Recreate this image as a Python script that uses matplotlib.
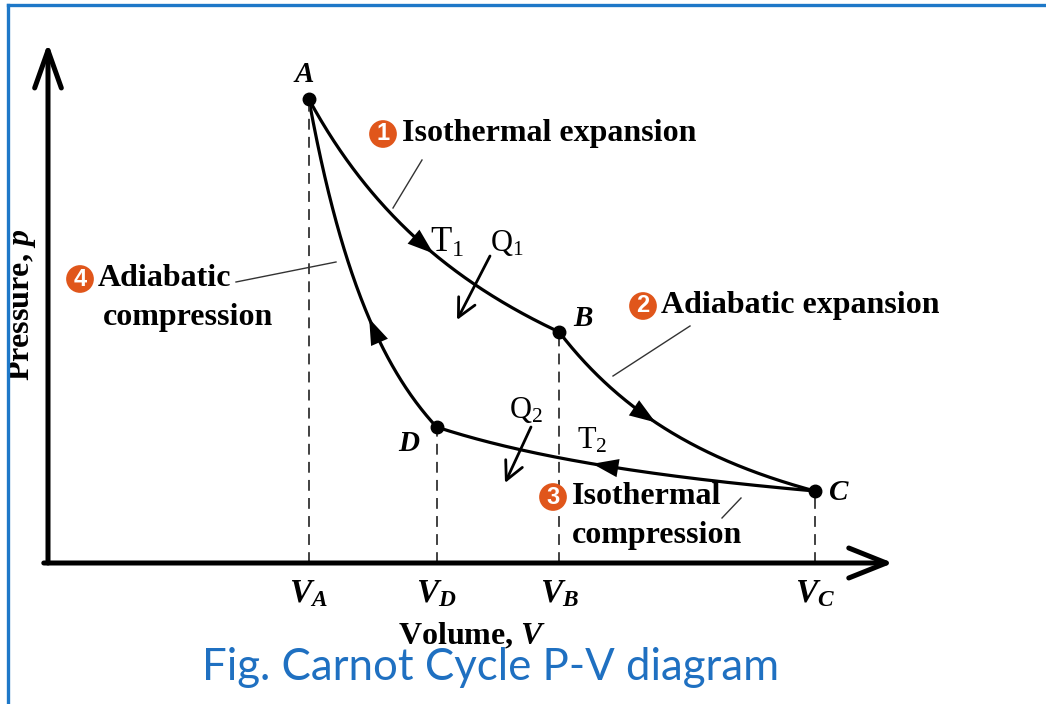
import numpy as np
import matplotlib.pyplot as plt
import matplotlib.transforms as mtransforms
from matplotlib.lines import Line2D

plt.rcParams['font.family'] = 'Liberation Serif'
plt.rcParams['mathtext.fontset'] = 'custom'
plt.rcParams['mathtext.rm'] = 'Liberation Serif'
plt.rcParams['mathtext.it'] = 'Liberation Serif:italic:bold'
plt.rcParams['mathtext.bf'] = 'Liberation Serif:bold'

# state points of the cycle (volume, pressure in arbitrary units)
points = ['A', 'B', 'C', 'D']
volume = [1.00, 1.96, 2.94, 1.49]
pressure = [4.64, 2.31, 0.72, 1.36]
tick_order = ['A', 'D', 'B', 'C']
processes = ['Isothermal expansion', 'Adiabatic expansion',
             'Isothermal\ncompression', 'Adiabatic\ncompression']
# where the direction arrow sits along each stroke (fraction of the way)
arrow_frac = [0.48, 0.36, 0.57, 0.51]

W, H = 1046, 704
fig = plt.figure(figsize=(W / 100, H / 100), dpi=100)
# image pixel coords (top-left origin) -> display
pix = mtransforms.Affine2D().scale(1, -1).translate(0, H)

ax = fig.add_axes([48 / W, 141 / H, 845 / W, 520 / H])
ax.set_xlim(0, 3.24)
ax.set_ylim(0, 5.20)
ax.axis('off')

# axes with open arrow heads
ax.annotate('', xy=(0, 1), xytext=(0, 0), xycoords='axes fraction',
            arrowprops=dict(arrowstyle='->,head_length=0.45,head_width=0.16',
                            lw=3.6, color='black', mutation_scale=60,
                            shrinkA=0, shrinkB=0))
ax.annotate('', xy=(1, 0), xytext=(-0.005, 0), xycoords='axes fraction',
            arrowprops=dict(arrowstyle='->,head_length=0.45,head_width=0.18',
                            lw=3.6, color='black', mutation_scale=60,
                            shrinkA=0, shrinkB=0))

# process curves p = p1 * (V1/V)^k through the state points
for i in range(4):
    v1, p1 = volume[i], pressure[i]
    v2, p2 = volume[(i + 1) % 4], pressure[(i + 1) % 4]
    k = np.log(p1 / p2) / np.log(v2 / v1)
    v = np.linspace(v1, v2, 200)
    p = p1 * (v1 / v) ** k
    ax.plot(v, p, color='black', lw=2.3, clip_on=False, solid_capstyle='round')
    j = int(arrow_frac[i] * 199)
    ax.annotate('', xy=(v[j + 4], p[j + 4]), xytext=(v[j], p[j]),
                arrowprops=dict(arrowstyle='-|>,head_length=0.85,head_width=0.3',
                                color='black', lw=0, mutation_scale=22,
                                shrinkA=0, shrinkB=0))

# dashed drop lines and state points
for name, v, p in zip(points, volume, pressure):
    ax.plot([v, v], [0, p], color='#333333', lw=1.3, dashes=(6, 4), clip_on=False)
ax.plot(volume, pressure, 'o', color='black', ms=9, clip_on=False)

label_offsets = {'A': (-3, 18), 'B': (17, 10), 'C': (17, -1), 'D': (-20, -12)}
for name, v, p in zip(points, volume, pressure):
    dx, dy = label_offsets[name]
    ax.annotate(name, (v, p), xytext=(dx, dy), textcoords='offset points',
                ha='center', va='center', fontsize=21, fontweight='bold',
                fontstyle='italic')

# volume tick labels
for name in tick_order:
    v = volume[points.index(name)]
    ax.annotate('$V_' + name + '$', (v, 0), xytext=(0, -11), textcoords='offset points',
                ha='center', va='top', fontsize=24)

# axis titles
ax.text(22, 305, 'Pressure, $p$', transform=pix, rotation=90, ha='center',
        va='center', fontsize=23, fontweight='bold')
ax.text(472, 636, r'Volume, $V$', transform=pix, ha='center', va='center',
        fontsize=23, fontweight='bold')

# numbered process labels
orange = '#E0561B'
badge_xy = [(383, 134), (643, 306), (553, 497), (80, 279)]
text_xy = [(402, 134), (661, 306), (572, 497), (98, 279)]
for n, ((bx, by), (tx, ty), txt) in enumerate(zip(badge_xy, text_xy, processes), 1):
    ax.text(bx, by, str(n), transform=pix, ha='center', va='center', color='white',
            fontsize=17, fontweight='bold', family='Liberation Sans',
            bbox=dict(boxstyle='circle,pad=0.1', fc=orange, ec='none'))
    for li, line in enumerate(txt.split('\n')):
        ax.text(tx + (5 if li else 0) * (n == 4), ty + 38 * li, line, transform=pix,
                ha='left', va='center', fontsize=23, fontweight='bold')

# leader lines from labels to curves
leaders = [((422, 160), (393, 208)), ((690, 326), (613, 376)),
           ((741, 498), (722, 518)), ((236, 282), (336, 262))]
for (x0, y0), (x1, y1) in leaders:
    ax.add_line(Line2D([x0, x1], [y0, y1], transform=pix, color='#333333', lw=1))

# heat flows and temperatures
ax.text(447, 243, r'$\mathrm{T}_1$', transform=pix, ha='center', va='center', fontsize=25)
ax.text(507, 243, r'$\mathrm{Q}_1$', transform=pix, ha='center', va='center', fontsize=22)
ax.text(526, 410, r'$\mathrm{Q}_2$', transform=pix, ha='center', va='center', fontsize=22)
ax.text(592, 441, r'$\mathrm{T}_2$', transform=pix, ha='center', va='center', fontsize=22)
for (x0, y0), (x1, y1) in [((490, 256), (457, 320)), ((531, 427), (505, 483))]:
    ax.annotate('', xy=(x1, y1), xytext=(x0, y0), xycoords=pix, textcoords=pix,
                arrowprops=dict(arrowstyle='->,head_length=0.6,head_width=0.3',
                                lw=2, color='black', mutation_scale=22,
                                shrinkA=0, shrinkB=0))

# caption
fig.text(491, 667, 'Fig. Carnot Cycle P-V diagram', transform=pix, ha='center',
         va='center', fontsize=31.5, color='#1F70C1', family='Lato')

# frame
blue = '#1E78C8'
fig.add_artist(Line2D([8, W], [5, 5], transform=pix, color=blue, lw=2.4))
fig.add_artist(Line2D([8, 8], [5, H], transform=pix, color=blue, lw=2.4))

fig.savefig('out.png', dpi=100)
